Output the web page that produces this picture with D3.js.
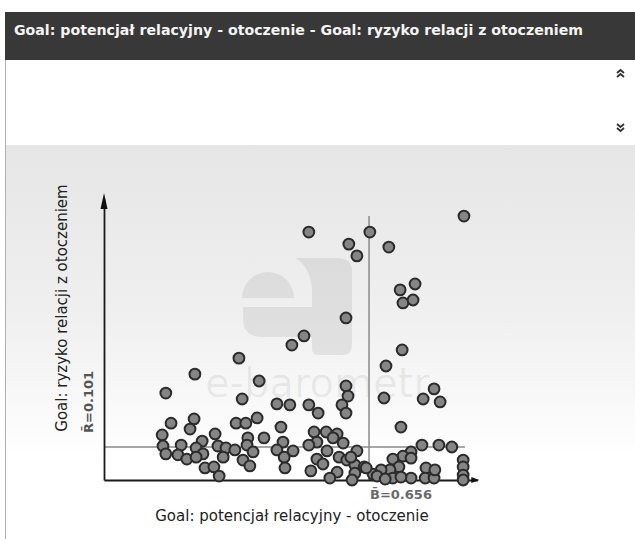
<!DOCTYPE html>
<html><head><meta charset="utf-8">
<script src="https://cdn.jsdelivr.net/npm/d3@7/dist/d3.min.js"></script>
<style>html,body{margin:0;padding:0;background:#fff;}svg{display:block;}</style>
</head><body>
<script>
const titleText = "Goal: potencjał relacyjny - otoczenie - Goal: ryzyko relacji z otoczeniem";
const xLabel = "Goal: potencjał relacyjny - otoczenie";
const yLabel = "Goal: ryzyko relacji z otoczeniem";
const meanX = 0.656, meanY = 0.101;
const meanXLabel = "B\u0304=0.656", meanYLabel = "R\u0304=0.101";
const xValues = [0.507,0.658,0.606,0.626,0.705,0.891,0.733,0.770,0.740,0.765,0.599,0.495,0.465,0.738,0.334,0.225,0.384,0.698,0.599,0.604,0.693,0.790,0.817,0.832,0.342,0.153,0.589,0.599,0.428,0.460,0.507,0.530,0.735,
0.166,0.223,0.213,0.327,0.351,0.379,0.438,0.144,0.275,0.396,0.443,0.356,0.146,0.191,0.243,0.228,0.282,0.302,0.324,0.354,0.369,0.428,0.468,0.153,0.183,0.205,0.245,0.228,0.295,0.344,0.361,0.446,0.448,0.250,0.272,0.285,
0.520,0.550,0.577,0.567,0.527,0.507,0.592,0.552,0.582,0.626,0.601,0.527,0.542,0.512,0.577,0.621,0.621,0.644,0.559,0.614,0.611,
0.787,0.829,0.861,0.760,0.740,0.715,0.760,0.730,0.708,0.686,0.666,0.649,0.676,0.715,0.760,0.797,0.795,0.817,0.819,0.889,0.889,0.889,0.889,0.696,0.735];
const yValues = [0.759,0.759,0.722,0.686,0.713,0.808,0.582,0.600,0.542,0.551,0.496,0.441,0.413,0.398,0.373,0.324,0.303,0.349,0.288,0.257,0.251,0.248,0.279,0.239,0.248,0.266,0.230,0.205,0.233,0.230,0.230,0.205,0.162,
0.174,0.187,0.156,0.174,0.174,0.190,0.162,0.138,0.141,0.129,0.116,0.129,0.104,0.107,0.119,0.098,0.104,0.098,0.092,0.107,0.086,0.092,0.089,0.080,0.077,0.064,0.080,0.070,0.070,0.061,0.043,0.070,0.037,0.037,0.040,0.012,
0.147,0.147,0.141,0.129,0.116,0.107,0.113,0.089,0.070,0.089,0.061,0.064,0.049,0.028,0.024,0.046,0.021,0.040,0.006,0.000,0.070,
0.107,0.107,0.101,0.086,0.073,0.064,0.067,0.040,0.031,0.031,0.018,0.037,0.012,0.006,0.006,0.037,0.006,0.006,0.031,0.061,0.040,0.015,0.000,0.003,0.009];

const W = 635, H = 539;
const svg = d3.select("body").append("svg").attr("width", W).attr("height", H);
const defs = svg.append("defs");
const grad = defs.append("linearGradient").attr("id","bg").attr("x1",0).attr("y1",0).attr("x2",0).attr("y2",1);
grad.append("stop").attr("offset","0%").attr("stop-color","#e6e6e6");
grad.append("stop").attr("offset","45%").attr("stop-color","#f0f0f0");
grad.append("stop").attr("offset","80%").attr("stop-color","#ffffff");

// header
svg.append("rect").attr("x",5).attr("y",12).attr("width",W-5).attr("height",48).attr("fill","#383838");
svg.append("text").attr("x",14).attr("y",35).attr("fill","#f4f4f4")
  .attr("font-family","DejaVu Sans, Verdana, sans-serif").attr("font-weight","bold").attr("font-size",14)
  .attr("textLength",569).attr("lengthAdjust","spacingAndGlyphs")
  .text(titleText);
// chart background
svg.append("rect").attr("x",5).attr("y",145).attr("width",W-5).attr("height",H-145).attr("fill","url(#bg)");
svg.append("line").attr("x1",5.5).attr("x2",5.5).attr("y1",60).attr("y2",H).attr("stroke","#b0b0b0").attr("stroke-width",1);

// chevrons
function chev(y0, up){
  const g = svg.append("g").attr("fill","none").attr("stroke","#333").attr("stroke-width",1.8);
  [0,4].forEach(o=>{
    const yy = y0 + o;
    g.append("path").attr("d", up ? `M617,${yy+3} L620.5,${yy} L624,${yy+3}` : `M617,${yy} L620.5,${yy+3} L624,${yy}`);
  });
}
chev(70, true);
chev(124, false);

// scales
const x = d3.scaleLinear().domain([0,1]).range([104,508]);
const y = d3.scaleLinear().domain([0,1]).range([480,153.3]);

// watermark
const wm = svg.append("g").attr("fill","#000");
wm.append("path").attr("fill-opacity",0.07).attr("d","M242,298 A26,26 0 0 1 294,298 Z");
wm.append("path").attr("fill-opacity",0.07).attr("d","M296,258 L338,258 Q352,258 352,272 L352,345 Q352,355 342,355 L318,355 Q312,355 312,348 L312,337 L262,337 Q243,337 243,318 L243,307 L312,307 L312,292 Q312,270 296,258 Z");
wm.append("text").attr("x",205).attr("y",397).attr("font-family","DejaVu Sans, sans-serif").attr("font-size",40)
  .attr("fill-opacity",0.06).text("e-barometr");

// mean lines
svg.append("line").attr("x1",x(0)).attr("x2",465).attr("y1",y(meanY)).attr("y2",y(meanY))
  .attr("stroke","#8a8a8a").attr("stroke-width",1.5);
svg.append("line").attr("x1",x(meanX)).attr("x2",x(meanX)).attr("y1",216).attr("y2",y(0))
  .attr("stroke","#8a8a8a").attr("stroke-width",1.5);

// axes (no ticks)
const ax = svg.append("g").attr("transform",`translate(0,${y(0)})`)
  .call(d3.axisBottom(d3.scaleLinear().domain([0,0.924]).range([x(0),x(0.924)])).tickValues([]).tickSizeOuter(0));
ax.select(".domain").attr("stroke","#1a1a1a").attr("stroke-width",1.8);
const ay = svg.append("g").attr("transform",`translate(${x(0)},0)`)
  .call(d3.axisLeft(d3.scaleLinear().domain([0,0.86]).range([y(0),y(0.86)])).tickValues([]).tickSizeOuter(0));
ay.select(".domain").attr("stroke","#1a1a1a").attr("stroke-width",1.8);
svg.append("path").attr("d",`M${x(0)-3.5},${y(0.86)+10} L${x(0)},${y(0.86)-6} L${x(0)+3.5},${y(0.86)+10} Z`).attr("fill","#111");
svg.append("path").attr("d",`M${x(0.924)-6},${y(0)-3} L${x(0.924)+2},${y(0)} L${x(0.924)-6},${y(0)+3} Z`).attr("fill","#111");

// points
svg.append("g").selectAll("circle").data(xValues.map((v,i)=>[v,yValues[i]])).join("circle")
  .attr("cx",d=>x(d[0])).attr("cy",d=>y(d[1])).attr("r",5.4)
  .attr("fill","#858585").attr("stroke","#2b2b2b").attr("stroke-width",2);

// labels
svg.append("text").attr("x",292).attr("y",521).attr("text-anchor","middle")
  .attr("font-family","DejaVu Sans, Verdana, sans-serif").attr("font-size",15).attr("fill","#222").text(xLabel);
svg.append("text").attr("transform",`translate(67,308) rotate(-90)`).attr("text-anchor","middle")
  .attr("font-family","DejaVu Sans, Verdana, sans-serif").attr("font-size",15).attr("fill","#222").text(yLabel);
svg.append("text").attr("x",x(meanX)+1).attr("y",499)
  .attr("font-family","DejaVu Sans, Verdana, sans-serif").attr("font-weight","bold").attr("font-size",13).attr("fill","#6a6a6a").text(meanXLabel);
svg.append("text").attr("transform",`translate(93,433) rotate(-90)`)
  .attr("font-family","DejaVu Sans, Verdana, sans-serif").attr("font-weight","bold").attr("font-size",13).attr("fill","#555").text(meanYLabel);
</script>
</body></html>
